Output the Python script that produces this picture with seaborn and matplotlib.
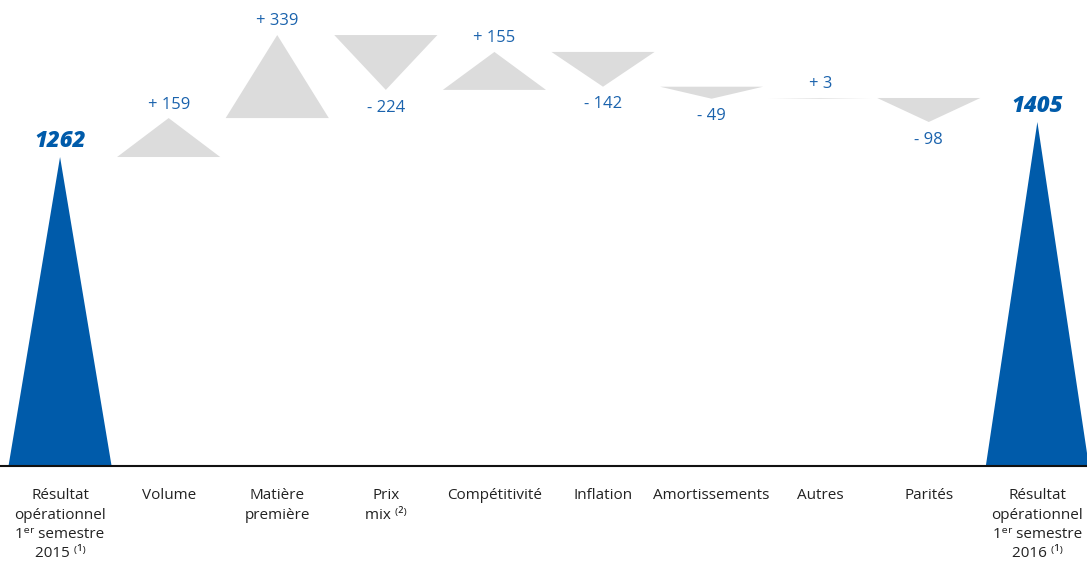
import numpy as np
import pandas as pd
import seaborn as sns
import matplotlib.pyplot as plt

# Data
categories = ["Résultat\nopérationnel\n1ᵉʳ semestre\n2015 ⁽¹⁾", "Volume", "Matière\npremière",
              "Prix\nmix ⁽²⁾", "Compétitivité", "Inflation", "Amortissements", "Autres", "Parités",
              "Résultat\nopérationnel\n1ᵉʳ semestre\n2016 ⁽¹⁾"]
start_value = 1262
end_value = 1405
changes = [159, 339, -224, 155, -142, -49, 3, -98]

sns.set_theme(style="white")
plt.rcParams['font.family'] = ['Open Sans', 'DejaVu Sans']

dark_blue = "#005BAA"
text_blue = "#1B63AD"
grey = "#DCDCDC"
half = 0.475

fig = plt.figure(figsize=(10.87, 5.63), dpi=100)
ax = fig.add_axes([0, 0.172, 1, 0.828])

# start / end triangles
for i, v in [(0, start_value), (9, end_value)]:
    ax.fill([i - half, i, i + half], [0, v, 0], color=dark_blue, lw=0)
    ax.annotate(f"{v}", (i, v), xytext=(0, 3), textcoords="offset points",
                ha="center", va="bottom", fontsize=16, fontweight="heavy",
                fontstyle="italic", color=dark_blue)

# change triangles
level = start_value
for k, d in enumerate(changes):
    i = k + 1
    top = level + d
    ax.fill([i - half, i, i + half], [level, top, level], color=grey, lw=0)
    if d >= 0:
        ax.annotate(f"+ {d}", (i, top), xytext=(0, 4), textcoords="offset points",
                    ha="center", va="bottom", fontsize=12, color=text_blue)
    else:
        ax.annotate(f"- {-d}", (i, top), xytext=(0, -7), textcoords="offset points",
                    ha="center", va="top", fontsize=12, color=text_blue)
    level = top

ax.set_xlim(-0.553, 9.457)
ax.set_ylim(0, 1903)
ax.set_xticks(range(len(categories)))
ax.set_xticklabels(categories, fontsize=11, color="#222222", linespacing=1.38)
ax.tick_params(axis="x", length=0, pad=16)
ax.set_yticks([])
for s in ["top", "left", "right"]:
    ax.spines[s].set_visible(False)
ax.spines["bottom"].set_color("#111111")
ax.spines["bottom"].set_linewidth(1.5)

fig.savefig("out.png", dpi=100)
